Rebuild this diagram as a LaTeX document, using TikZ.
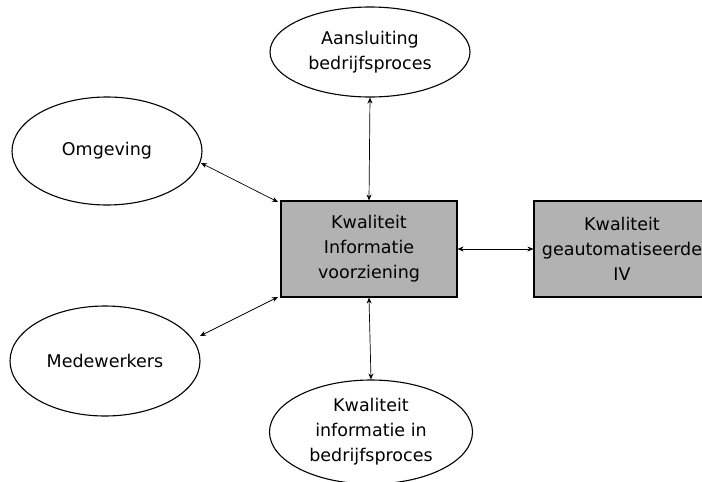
\documentclass[tikz,border=0pt]{standalone}
\usepackage{fontspec}
\setmainfont{DejaVu Sans}
\usetikzlibrary{shapes.geometric,arrows.meta}
\begin{document}
\begin{tikzpicture}[x=1pt,y=-1pt,
  topic/.style={ellipse,draw,line width=1.1pt,inner sep=0pt,align=center,
    font=\fontsize{17.5}{25}\selectfont},
  core/.style={rectangle,draw,line width=1.1pt,fill=black!30,inner sep=0pt,
    minimum width=176pt,minimum height=96pt,align=center,
    font=\fontsize{17.5}{25}\selectfont},
  link/.style={line width=0.7pt,{Stealth[length=6pt,width=5pt]}-{Stealth[length=6pt,width=5pt]}}]
\useasboundingbox (0,0) rectangle (702,482);
\clip (0,0) rectangle (702,482);
% central and right boxes
\node[core] (kiv) at (369,249) {Kwaliteit\\Informatie\\voorziening};
\node[core] (kgiv) at (622,249) {Kwaliteit\\geautomatiseerde\\IV};
% surrounding ellipses
\node[topic,minimum width=200pt,minimum height=90pt] (aans) at (370,52) {Aansluiting\\bedrijfsproces};
\node[topic,minimum width=190pt,minimum height=108pt] (omg) at (107,151) {Omgeving};
\node[topic,minimum width=190pt,minimum height=110pt] (mdw) at (105,361) {Medewerkers};
\node[topic,minimum width=203pt,minimum height=104pt] (kib) at (371,432) {Kwaliteit\\informatie in\\bedrijfsproces};
% connectors
\coordinate (omgA) at (201,163);
\coordinate (omgB) at (278,202);
\coordinate (mdwA) at (200,336);
\coordinate (mdwB) at (278,297);
\draw[link] (omgA) -- (omgB);
\draw[link] (mdwA) -- (mdwB);
\draw[link] (aans.south) -- (kiv.north);
\draw[link] (kiv.south) -- (kib.north);
\draw[link] (kiv.east) -- (kgiv.west);
\end{tikzpicture}
\end{document}
